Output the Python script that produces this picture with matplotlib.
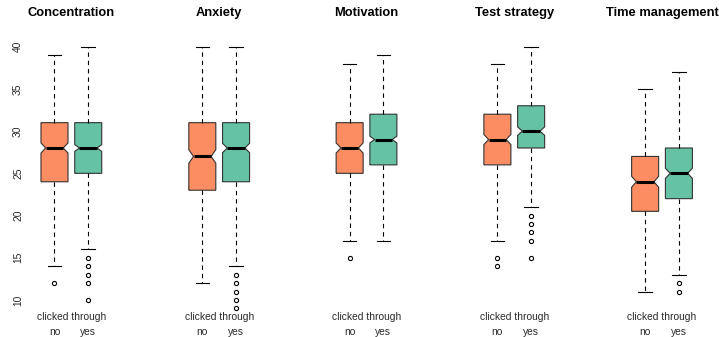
import matplotlib
matplotlib.use("Agg")
import matplotlib.pyplot as plt
from matplotlib.path import Path
from matplotlib.transforms import blended_transform_factory

plt.rcParams['font.family'] = ['Liberation Sans', 'DejaVu Sans']

# ── data: one entry per scale, each a [no, yes] pair ─────────────────────────
scales = ["Concentration", "Anxiety", "Motivation", "Test strategy", "Time management"]
groups = ["no", "yes"]

whislo = [[14, 16], [12, 14], [17, 17], [17, 21], [11, 13]]
q1     = [[24, 25], [23, 24], [25, 26], [26, 28], [20.5, 22]]
med    = [[28, 28], [27, 28], [28, 29], [29, 30], [24, 25]]
q3     = [[31, 31], [31, 31], [31, 32], [32, 33], [27, 28]]
whishi = [[39, 40], [40, 40], [38, 39], [38, 40], [35, 37]]
notch  = [[0.6, 0.4], [0.8, 0.55], [0.6, 0.4], [0.6, 0.5], [0.65, 0.6]]   # median +/- CI half-width
fliers = [
    [[12], [15, 14, 13, 12, 10]],
    [[], [13, 12, 11, 10, 9]],
    [[15], []],
    [[15, 14], [20, 19, 18, 17, 15]],
    [[], [12, 11]],
]

fill_colors = ["#FC8D62", "#66C2A5"]
yticks = [10, 15, 20, 25, 30, 35, 40]

# ── layout ───────────────────────────────────────────────────────────────────
fig = plt.figure(figsize=(7.19, 3.37), dpi=100)
lefts = [0.0523, 0.2579, 0.4628, 0.6683, 0.8738]
bottom, width, height = 0.0537, 0.0939, 0.8389
text_col = "#2a2a2a"

for i, name in enumerate(scales):
    ax = fig.add_axes([lefts[i], bottom, width, height])
    stats = []
    for g in range(2):
        stats.append(dict(med=med[i][g], q1=q1[i][g], q3=q3[i][g],
                          whislo=whislo[i][g], whishi=whishi[i][g],
                          cilo=med[i][g] - notch[i][g], cihi=med[i][g] + notch[i][g],
                          fliers=fliers[i][g], label=groups[g]))
    bp = ax.bxp(stats, positions=[1, 2], widths=0.8, shownotches=True, patch_artist=True,
                boxprops=dict(edgecolor="#333333", linewidth=0.8),
                medianprops=dict(color="black", linewidth=2.2, solid_capstyle="butt"),
                whiskerprops=dict(color="black", linewidth=0.8, linestyle=(0, (4, 3.5))),
                capprops=dict(color="black", linewidth=0.8),
                flierprops=dict(marker="o", markersize=3.0, markerfacecolor="none",
                                markeredgecolor="black", markeredgewidth=0.8))

    # fill colours and shallower notches
    for k, patch in enumerate(bp['boxes']):
        pos = k + 1
        patch.set_facecolor(fill_colors[k])
        verts = patch.get_path().vertices.copy()
        verts[3, 0] = pos + 0.26
        verts[8, 0] = pos - 0.26
        patch.set_path(Path(verts))
        bp['medians'][k].set_xdata([pos - 0.26, pos + 0.26])

    ax.set_xlim(0.5, 2.5)
    ax.set_ylim(7.76, 41.24)
    for s in ax.spines.values():
        s.set_visible(False)

    ax.set_xticks([1, 2])
    ax.set_xticklabels(groups)
    ax.tick_params(axis="x", length=0, pad=5.5, labelsize=7.4, labelcolor=text_col)

    if i == 0:
        ax.set_yticks(yticks)
        ax.set_yticklabels([str(t) for t in yticks], rotation=90, va="center")
        ax.tick_params(axis="y", length=0, pad=10.5, labelsize=7.4, labelcolor=text_col)
    else:
        ax.set_yticks([])

    trans = blended_transform_factory(ax.transData, fig.transFigure)
    ax.text(1.5, 0.0585, "clicked through", transform=trans, ha="center", va="center",
            fontsize=7.4, color=text_col)
    ax.set_title(name, fontsize=9.3, fontweight="bold", pad=14.5, color="black")

fig.savefig("out.png", dpi=100)
